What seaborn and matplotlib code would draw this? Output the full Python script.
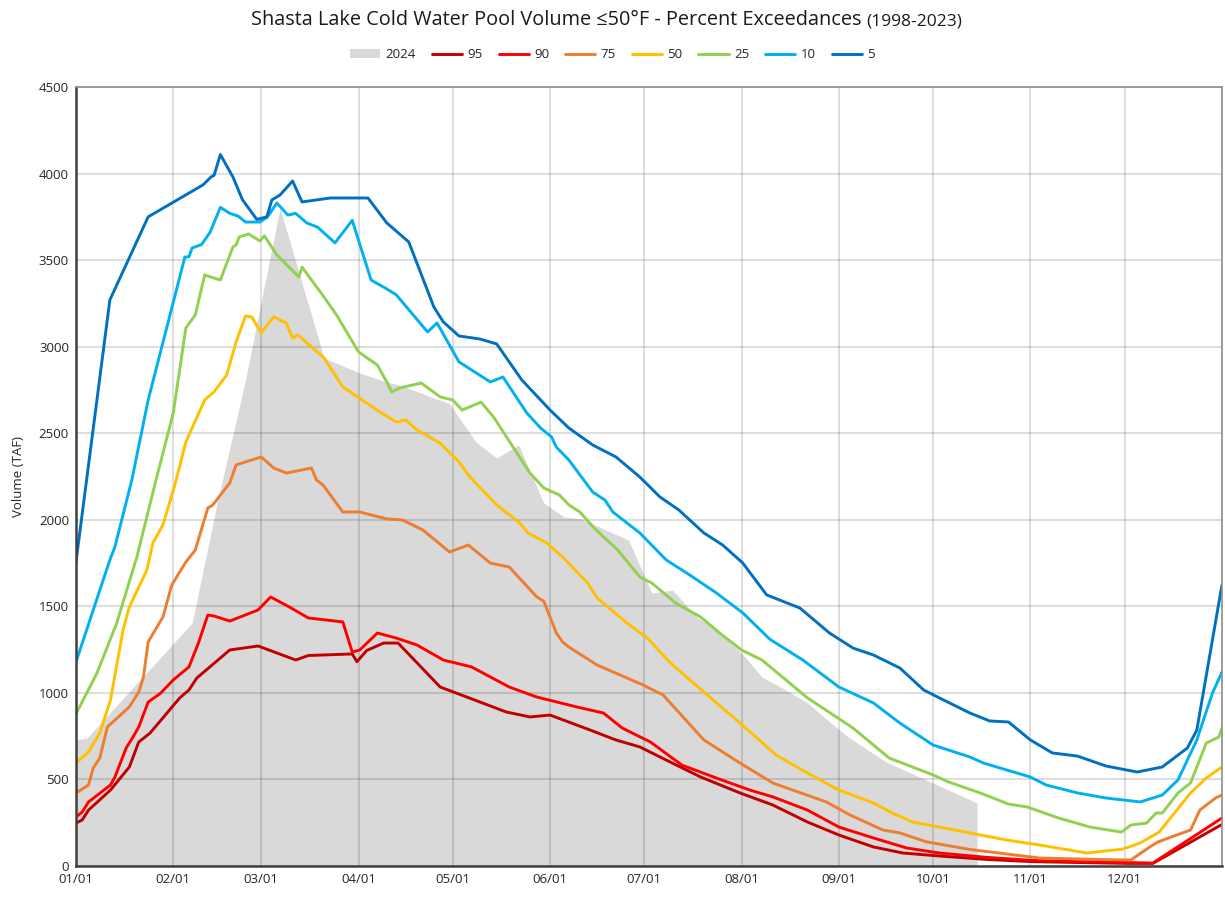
import numpy as np
import pandas as pd
import matplotlib
matplotlib.use("Agg")
import matplotlib.pyplot as plt
from matplotlib.patches import Patch
from matplotlib.lines import Line2D
import seaborn as sns

# Day-of-year (0 = Jan 1) and cold water pool volume (TAF)
day_2024 = [0, 3.5, 37, 45, 54, 65, 79, 90.4, 99, 103, 119, 127.5, 134, 141, 149, 155.5, 161, 176,
            183.4, 190, 198, 203.5, 212, 218.5, 225, 233, 242, 246.5, 258, 273, 287]
vol_2024 = [728, 739, 1404, 2100, 2808, 3800, 2935, 2848, 2796, 2779, 2670, 2447, 2357, 2432, 2097, 2016, 2005, 1883,
            1577, 1594, 1433, 1375, 1230, 1092, 1028, 942, 803, 739, 601, 479, 364]

day_95 = [0, 2, 4, 11, 17, 20, 23.6, 29, 33, 36, 38.5, 49, 58, 70, 74, 88, 89.5, 92.6, 98, 102.6, 116, 124.5,
          137, 144.6, 151, 163.7, 172, 179.6, 188, 199, 211.5, 222, 233, 243, 254, 263.4, 275, 290, 305, 320,
          335, 343, 365]
vol_95 = [248, 266, 323, 439, 572, 716, 768, 884, 970, 1017, 1086, 1248, 1271, 1190, 1216, 1225, 1180, 1245, 1288,
          1288, 1034, 976, 890, 861, 872, 786, 728, 688, 612, 514, 422, 352, 254, 179, 110, 75, 58, 38, 25, 20,
          15, 15, 240]

day_90 = [0, 2, 4, 11, 12.4, 16, 18, 20, 23, 27, 31, 36, 39, 42, 44, 49, 58, 62, 68, 74, 85, 88, 90.4, 96, 102,
          108.6, 117, 126, 138, 146.8, 159.5, 168, 174, 183, 193, 204, 214.6, 222, 233, 243, 254, 264.6, 275,
          290, 305, 320, 335, 343, 365]
vol_90 = [283, 312, 370, 468, 514, 682, 740, 803, 947, 999, 1075, 1150, 1288, 1450, 1444, 1415, 1479, 1554, 1496,
          1433, 1410, 1236, 1248, 1346, 1317, 1277, 1190, 1150, 1034, 976, 919, 884, 797, 716, 583, 508, 439,
          399, 323, 225, 162, 104, 75, 50, 32, 25, 20, 17, 277]

day_75 = [0, 4, 5.5, 7.6, 10, 17, 20, 21.5, 23, 25.8, 27.7, 30.5, 35, 38, 42, 43.6, 49, 51, 59, 63, 67, 75, 76.6,
          78.7, 85, 90.4, 99, 104, 110.5, 119, 125, 132, 138, 146.8, 149, 153, 155, 157, 166, 180.6, 187, 200,
          211.5, 222, 239, 246.5, 257, 262.4, 271, 285, 307, 332, 336, 342, 344.6, 348, 355, 358, 363, 365]
vol_75 = [422, 468, 566, 624, 803, 919, 1005, 1092, 1294, 1381, 1438, 1623, 1756, 1825, 2068, 2086, 2213, 2317,
          2363, 2299, 2270, 2299, 2230, 2201, 2045, 2045, 2005, 1999, 1941, 1814, 1854, 1750, 1727, 1554, 1530,
          1346, 1294, 1265, 1161, 1046, 988, 728, 595, 479, 370, 295, 208, 191, 139, 95, 46, 35, 35, 110, 139,
          162, 208, 324, 393, 410]

day_50 = [0, 4, 7.6, 11, 15, 17, 22.6, 24.5, 27.7, 31.5, 35, 41, 44, 48, 51, 54, 56, 59, 63, 67, 69, 70.7, 79,
          85, 96.8, 102, 105, 108.6, 116, 122, 125.5, 134, 141, 144, 150, 155, 163, 166, 175.5, 182, 189, 195.5,
          211.5, 223, 233, 243, 254, 260, 266.6, 275, 284.7, 296.5, 307, 322, 328, 333.4, 339, 345, 355, 360, 365]
vol_50 = [595, 659, 768, 959, 1363, 1496, 1710, 1866, 1970, 2201, 2449, 2692, 2740, 2836, 3027, 3177, 3172, 3080,
          3172, 3137, 3050, 3068, 2935, 2767, 2623, 2565, 2577, 2519, 2443, 2334, 2247, 2086, 1987, 1924, 1866,
          1785, 1635, 1548, 1404, 1317, 1179, 1075, 826, 641, 537, 439, 364, 306, 254, 225, 191, 150, 121, 75,
          87, 98, 133, 196, 422, 508, 572]

day_25 = [0, 6.7, 13, 16, 19.4, 25.5, 31, 35, 38, 41, 46, 50, 51, 52, 55, 58.6, 60, 64, 71, 72, 79, 83, 90, 96,
          99, 100.6, 103, 107, 110, 116, 120, 123, 129, 133, 144.6, 149, 154, 157, 160.5, 165, 172.6, 179.6,
          183.4, 191, 199, 205, 212, 218.5, 233, 247.5, 259, 273, 278, 288, 297, 303, 313, 323, 333, 336, 341,
          344, 346, 351, 355, 360, 364, 365]
vol_25 = [878, 1115, 1404, 1583, 1785, 2230, 2617, 3108, 3183, 3414, 3385, 3576, 3587, 3634, 3651, 3611, 3640,
          3530, 3403, 3460, 3287, 3183, 2970, 2894, 2796, 2738, 2761, 2778, 2790, 2710, 2692, 2634, 2680, 2594,
          2270, 2184, 2143, 2086, 2045, 1953, 1825, 1670, 1635, 1519, 1438, 1346, 1248, 1190, 971, 797, 624, 526,
          485, 422, 358, 341, 277, 225, 196, 237, 248, 306, 306, 422, 480, 710, 745, 797]

day_10 = [0, 10.8, 12.4, 17.8, 23, 34.7, 36, 37, 40, 42.7, 46, 49, 51.6, 54, 58.6, 61, 64, 67.5, 70, 73.5, 77,
          82.5, 88, 94, 98.4, 102, 112, 115, 122, 132, 136, 143.6, 148, 151.5, 153, 157, 164.6, 168.5, 171,
          179.6, 188, 195.5, 204, 212.4, 221, 231.5, 243, 254, 262.4, 273, 284.7, 289, 304, 309, 319, 328, 339,
          346, 351, 357, 362, 365]
vol_10 = [1178, 1768, 1843, 2230, 2692, 3518, 3520, 3570, 3590, 3660, 3805, 3770, 3755, 3720, 3720, 3750, 3830,
          3760, 3770, 3715, 3690, 3600, 3730, 3385, 3340, 3300, 3085, 3137, 2912, 2796, 2825, 2617, 2530, 2478,
          2420, 2345, 2160, 2114, 2045, 1924, 1768, 1681, 1577, 1462, 1310, 1190, 1034, 942, 826, 699, 630, 595,
          514, 468, 422, 393, 370, 410, 497, 728, 1000, 1120]

day_5 = [0, 10.8, 23, 40.5, 43, 44, 46, 50, 53, 57.6, 60.8, 62.4, 65, 69, 72, 81, 93, 99, 106, 114, 117, 122,
         128.7, 134, 142, 151, 157, 164.6, 172, 179.6, 186, 192, 200, 206, 212.4, 220, 230.6, 240, 247.5, 254,
         262.4, 270, 275, 284.7, 291, 297, 304, 311, 319, 328, 338, 346, 354, 357, 365]
vol_5 = [1755, 3270, 3750, 3935, 3980, 3990, 4110, 3980, 3850, 3735, 3750, 3848, 3876, 3957, 3836, 3859, 3859,
         3715, 3605, 3229, 3143, 3062, 3044, 3016, 2808, 2634, 2530, 2432, 2363, 2247, 2132, 2057, 1924, 1854,
         1750, 1566, 1490, 1346, 1259, 1219, 1144, 1017, 971, 884, 838, 832, 728, 653, 635, 578, 543, 572, 682,
         785, 1623]

series_names = ["95", "90", "75", "50", "25", "10", "5"]
series_colors = ["#c00000", "#ff0000", "#ed7d31", "#ffc000", "#92d050", "#00b0f0", "#0070c0"]
month_starts = [0, 31, 59, 90, 120, 151, 181, 212, 243, 273, 304, 334]
month_labels = ["01/01", "02/01", "03/01", "04/01", "05/01", "06/01",
                "07/01", "08/01", "09/01", "10/01", "11/01", "12/01"]

days = [day_95, day_90, day_75, day_50, day_25, day_10, day_5]
vols = [vol_95, vol_90, vol_75, vol_50, vol_25, vol_10, vol_5]
df = pd.concat([pd.DataFrame({"day": d, "volume": v, "exceedance": n})
                for d, v, n in zip(days, vols, series_names)], ignore_index=True)

sns.set_theme(style="white")
plt.rcParams["font.family"] = ["Open Sans", "DejaVu Sans"]

fig = plt.figure(figsize=(12.25, 8.99), dpi=100)
ax = fig.add_axes([0.062, 0.0367, 0.9355, 0.8665])

ax.fill_between(day_2024, vol_2024, 0, color="#d9d9d9", linewidth=0, zorder=1)
sns.lineplot(data=df, x="day", y="volume", hue="exceedance", hue_order=series_names,
             palette=series_colors, estimator=None, sort=False, linewidth=2.1, ax=ax, legend=False)

ax.set_xlim(0, 365)
ax.set_ylim(0, 4500)
ax.set_xticks(month_starts)
ax.set_xticklabels(month_labels)
ax.set_yticks(np.arange(0, 4501, 500))
ax.tick_params(axis="both", labelsize=9.5, length=0, pad=5, colors="#262626")
ax.set_xlabel("")
ax.set_ylabel("Volume (TAF)", fontsize=9.5, color="#262626", labelpad=10)

ax.set_axisbelow("line")
ax.grid(True, color="black", alpha=0.13, linewidth=1.5)
for side in ["top", "right"]:
    ax.spines[side].set_color("#8c8c8c")
    ax.spines[side].set_linewidth(1.2)
for side in ["left", "bottom"]:
    ax.spines[side].set_color("#404040")
    ax.spines[side].set_linewidth(1.8)

# title with smaller period annotation
fig.text(0.703, 0.972, "Shasta Lake Cold Water Pool Volume \u226450\u00b0F - Percent Exceedances",
         ha="right", va="baseline", fontsize=14.3, color="#1a1a1a")
fig.text(0.707, 0.972, "(1998-2023)", ha="left", va="baseline", fontsize=12.5, color="#1a1a1a")

handles = [Patch(facecolor="#d9d9d9", edgecolor="none", label="2024")]
handles += [Line2D([0], [0], color=c, lw=2.1, label=n) for n, c in zip(series_names, series_colors)]
fig.legend(handles=handles, loc="center", bbox_to_anchor=(0.5, 0.939), ncol=8, frameon=False,
           fontsize=9.5, handlelength=2.3, handletextpad=0.4, columnspacing=1.2)

fig.savefig("out.png", dpi=100)
